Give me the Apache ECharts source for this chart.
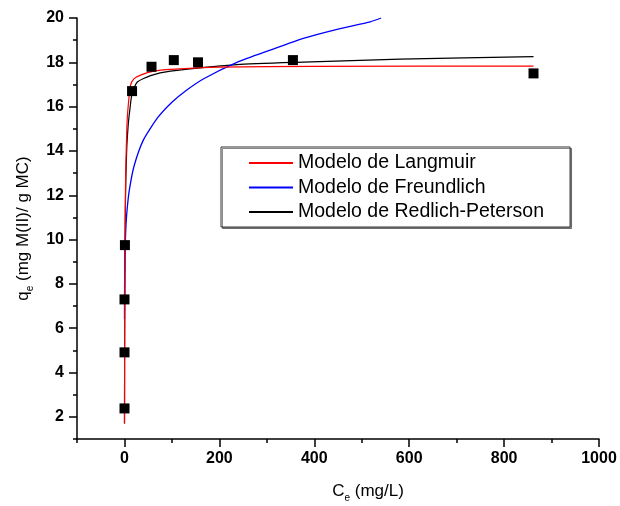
<!DOCTYPE html>
<html>
<head>
<meta charset="utf-8">
<script src="https://cdn.jsdelivr.net/npm/echarts@6/dist/echarts.min.js"></script>
<style>
  html, body { margin: 0; padding: 0; background: #fff; }
  #main { width: 620px; height: 506px; }
</style>
</head>
<body>
<div id="main"></div>
<script>
// datos experimentales (Ce, qe)
const expC = [0.1, 0.1, 0.1, 1, 16, 57, 104, 155, 355, 862];
const expQ = [2.38, 4.91, 7.3, 9.75, 16.7, 17.8, 18.1, 18.0, 18.1, 17.5];

// curvas
const langC = [0.1, 0.3, 0.6, 1, 2, 3, 5, 7, 12.6, 20, 33.7, 62, 97, 200, 400, 862];
const langQ = [1.7, 4.4, 7.0, 9.3, 12.0, 13.4, 15.0, 15.8, 16.95, 17.25, 17.42, 17.6, 17.68, 17.78, 17.82, 17.83];

const freC = [0.05, 0.2, 0.5, 1, 2, 3.5, 6, 10, 20, 40, 70, 100, 130, 167, 237, 307, 377, 448, 518, 541];
const freQ = [6.4, 7.55, 8.45, 9.2, 10.0, 10.75, 11.45, 12.2, 13.3, 14.5, 15.5, 16.2, 16.73, 17.26, 18.0, 18.55, 19.08, 19.49, 19.83, 20.0];

const rpC = [0.1, 0.3, 0.6, 1, 2, 3, 5, 8, 11, 16, 26.7, 55, 97, 237, 377, 581, 862];
const rpQ = [1.7, 4.3, 6.9, 9.0, 11.5, 12.8, 14.2, 15.2, 15.8, 16.6, 17.1, 17.4, 17.6, 17.9, 18.01, 18.14, 18.26];

// marcas de los ejes
const xMajor = [0, 200, 400, 600, 800, 1000];
const xMinor = [-100, 100, 300, 500, 700, 900];
const yMajor = [2, 4, 6, 8, 10, 12, 14, 16, 18, 20];
const yMinor = [1, 3, 5, 7, 9, 11, 13, 15, 17, 19];

const seriesNames = ['Modelo de Langmuir', 'Modelo de Freundlich', 'Modelo de Redlich-Peterson'];

function pairs(xs, ys) {
  return xs.map((x, i) => [x, ys[i]]);
}

const font = 'Liberation Sans, Arial, sans-serif';
const axisColor = '#000';

const chart = echarts.init(document.getElementById('main'));

const titleRich = {
  a: { fontFamily: font, fontSize: 17, color: '#000', lineHeight: 24 },
  s: { fontFamily: font, fontSize: 10, color: '#000', lineHeight: 10, verticalAlign: 'bottom' }
};

const tickLabel = {
  fontFamily: font, fontSize: 16, fontWeight: 'bold', color: '#000',
  formatter: v => String(v)
};

function mainAxis(major, name, gap, extra) {
  return Object.assign({
    type: 'value',
    axisLine: { onZero: false, lineStyle: { color: axisColor, width: 1.5 } },
    axisTick: { customValues: major, length: 8, lineStyle: { color: axisColor, width: 1.5 } },
    splitLine: { show: false },
    name: name,
    nameLocation: 'middle',
    nameGap: gap,
    nameTextStyle: { rich: titleRich }
  }, extra);
}

function minorAxis(minor, extra) {
  return Object.assign({
    type: 'value',
    axisLine: { show: false, onZero: false },
    axisTick: { customValues: minor, length: 4, lineStyle: { color: axisColor, width: 1.5 } },
    axisLabel: { show: false },
    splitLine: { show: false }
  }, extra);
}

const option = {
  animation: false,
  backgroundColor: '#fff',
  grid: { left: 77, right: 21, top: 18, bottom: 67, outerBoundsMode: 'none' },
  xAxis: [
    mainAxis(xMajor, '{a|C}{s|e}{a| (mg/L)}', 40, {
      min: -100, max: 1000, position: 'bottom',
      axisLabel: Object.assign({ customValues: xMajor, margin: 12 }, tickLabel),
      nameTextStyle: { rich: titleRich, padding: [0, 0, 0, 60] }
    }),
    minorAxis(xMinor, { min: -100, max: 1000, position: 'bottom' })
  ],
  yAxis: [
    mainAxis(yMajor, '{a|q}{s|e}{a| (mg M(II)/ g MC)}', 40, {
      min: 1, max: 20, position: 'left',
      axisLabel: Object.assign({ customValues: yMajor, margin: 13 }, tickLabel)
    }),
    minorAxis(yMinor, { min: 1, max: 20, position: 'left' })
  ],
  legend: {
    data: seriesNames,
    orient: 'vertical',
    left: 221,
    top: 147,
    padding: [6, 26, 5, 27],
    itemWidth: 44,
    itemHeight: 14,
    itemGap: 4.5,
    selectedMode: false,
    itemStyle: { opacity: 0 },
    borderColor: '#333',
    borderWidth: 1,
    backgroundColor: '#fff',
    shadowColor: 'rgba(0,0,0,0.45)',
    shadowOffsetX: 1.5,
    shadowOffsetY: 1.5,
    textStyle: { fontFamily: font, fontSize: 19.5, color: '#000', lineHeight: 20 }
  },
  series: [
    {
      name: seriesNames[2],
      type: 'line',
      data: pairs(rpC, rpQ),
      symbol: 'none',
      smooth: 0.2,
      clip: true,
      lineStyle: { color: '#000', width: 1.2 },
      itemStyle: { color: '#000' }
    },
    {
      name: seriesNames[1],
      type: 'line',
      data: pairs(freC, freQ),
      symbol: 'none',
      smooth: 0.2,
      clip: true,
      lineStyle: { color: '#0000ff', width: 1.3 },
      itemStyle: { color: '#0000ff' }
    },
    {
      name: seriesNames[0],
      type: 'line',
      data: pairs(langC, langQ),
      symbol: 'none',
      smooth: 0.2,
      clip: true,
      lineStyle: { color: '#ff0000', width: 1.2 },
      itemStyle: { color: '#ff0000' }
    },
    {
      name: 'Experimental',
      type: 'scatter',
      data: pairs(expC, expQ),
      symbol: 'rect',
      symbolSize: 10,
      itemStyle: { color: '#000', opacity: 1 },
      z: 5
    }
  ]
};

chart.setOption(option);
</script>
</body>
</html>
